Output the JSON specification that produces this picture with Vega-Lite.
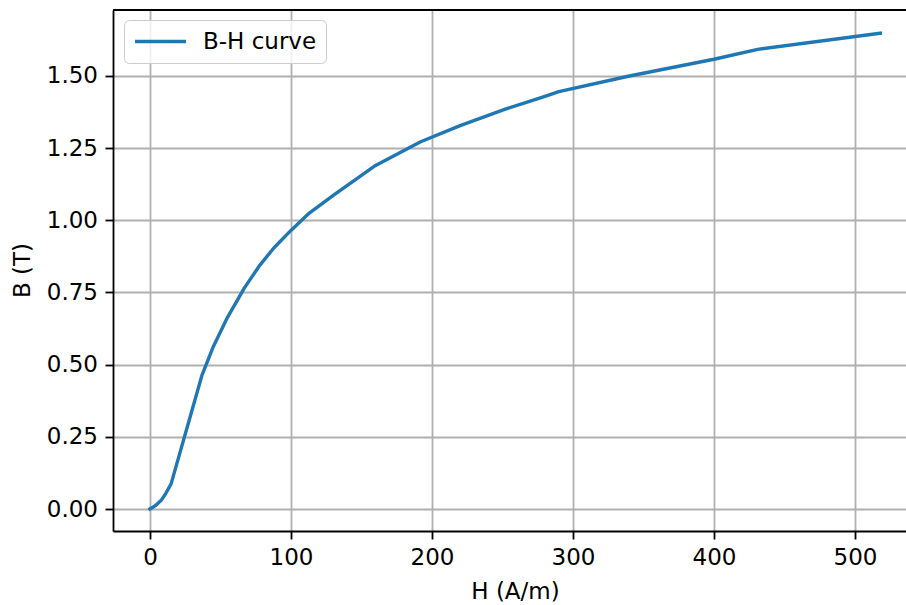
{
  "$schema": "https://vega.github.io/schema/vega-lite/v6.json",
  "width": 793,
  "height": 521,
  "autosize": "none",
  "padding": {"left": 113, "top": 10, "right": 0, "bottom": 74},
  "background": "white",
  "config": {
    "view": {"stroke": null},
    "font": "DejaVu Sans",
    "axis": {
      "labelFont": "DejaVu Sans",
      "titleFont": "DejaVu Sans",
      "labelFontSize": 23,
      "titleFontSize": 23,
      "titleFontWeight": "normal",
      "labelColor": "black",
      "titleColor": "black",
      "domainColor": "black",
      "domainWidth": 1.8,
      "tickColor": "black",
      "tickWidth": 1.8,
      "tickSize": 8,
      "labelPadding": 7.5,
      "gridColor": "#b0b0b0",
      "gridWidth": 1.8,
      "gridOpacity": 1
    }
  },
  "data": {
    "values": [
      {"H": 0, "B": 0, "series": "B-H curve"},
      {"H": 4, "B": 0.012, "series": "B-H curve"},
      {"H": 8, "B": 0.03, "series": "B-H curve"},
      {"H": 11, "B": 0.052, "series": "B-H curve"},
      {"H": 15, "B": 0.087, "series": "B-H curve"},
      {"H": 37, "B": 0.465, "series": "B-H curve"},
      {"H": 45, "B": 0.563, "series": "B-H curve"},
      {"H": 55, "B": 0.664, "series": "B-H curve"},
      {"H": 67, "B": 0.766, "series": "B-H curve"},
      {"H": 78, "B": 0.845, "series": "B-H curve"},
      {"H": 88, "B": 0.905, "series": "B-H curve"},
      {"H": 100, "B": 0.965, "series": "B-H curve"},
      {"H": 113, "B": 1.025, "series": "B-H curve"},
      {"H": 130, "B": 1.086, "series": "B-H curve"},
      {"H": 160, "B": 1.19, "series": "B-H curve"},
      {"H": 192, "B": 1.272, "series": "B-H curve"},
      {"H": 220, "B": 1.328, "series": "B-H curve"},
      {"H": 252, "B": 1.385, "series": "B-H curve"},
      {"H": 278, "B": 1.426, "series": "B-H curve"},
      {"H": 290, "B": 1.446, "series": "B-H curve"},
      {"H": 340, "B": 1.5, "series": "B-H curve"},
      {"H": 400, "B": 1.558, "series": "B-H curve"},
      {"H": 431, "B": 1.592, "series": "B-H curve"},
      {"H": 518, "B": 1.648, "series": "B-H curve"}
    ]
  },
  "layer": [
    {
      "mark": {"type": "line", "strokeWidth": 3.4, "strokeCap": "square", "strokeJoin": "round"},
      "encoding": {
        "x": {
          "field": "H",
          "type": "quantitative",
          "scale": {"domain": [-26.2, 536.2], "nice": false, "zero": false},
          "axis": {
            "title": "H (A/m)",
            "values": [0, 100, 200, 300, 400, 500],
            "titleX": 402,
            "titleY": 67,
            "titleBaseline": "alphabetic"
          }
        },
        "y": {
          "field": "B",
          "type": "quantitative",
          "scale": {"domain": [-0.0762, 1.7285], "nice": false, "zero": false},
          "axis": {
            "title": "B (T)",
            "values": [0, 0.25, 0.5, 0.75, 1, 1.25, 1.5],
            "format": ".2f",
            "titleX": -84,
            "titleY": 260,
            "titleBaseline": "alphabetic"
          }
        },
        "color": {
          "field": "series",
          "type": "nominal",
          "scale": {"range": ["#1f77b4"]},
          "legend": {
            "title": null,
            "orient": "none",
            "legendX": 11,
            "legendY": 10,
            "symbolType": "stroke",
            "symbolSize": 2600,
            "symbolStrokeWidth": 3.4,
            "clipHeight": 25,
            "labelFontSize": 23,
            "labelFont": "DejaVu Sans",
            "labelColor": "black",
            "labelOffset": 15,
            "padding": 9,
            "strokeColor": "#cccccc",
            "fillColor": "rgba(255,255,255,0.8)",
            "cornerRadius": 5
          }
        }
      }
    },
    {
      "mark": {"type": "rule", "color": "black", "strokeWidth": 1.8},
      "encoding": {"y": {"datum": 1.7285}}
    }
  ]
}
